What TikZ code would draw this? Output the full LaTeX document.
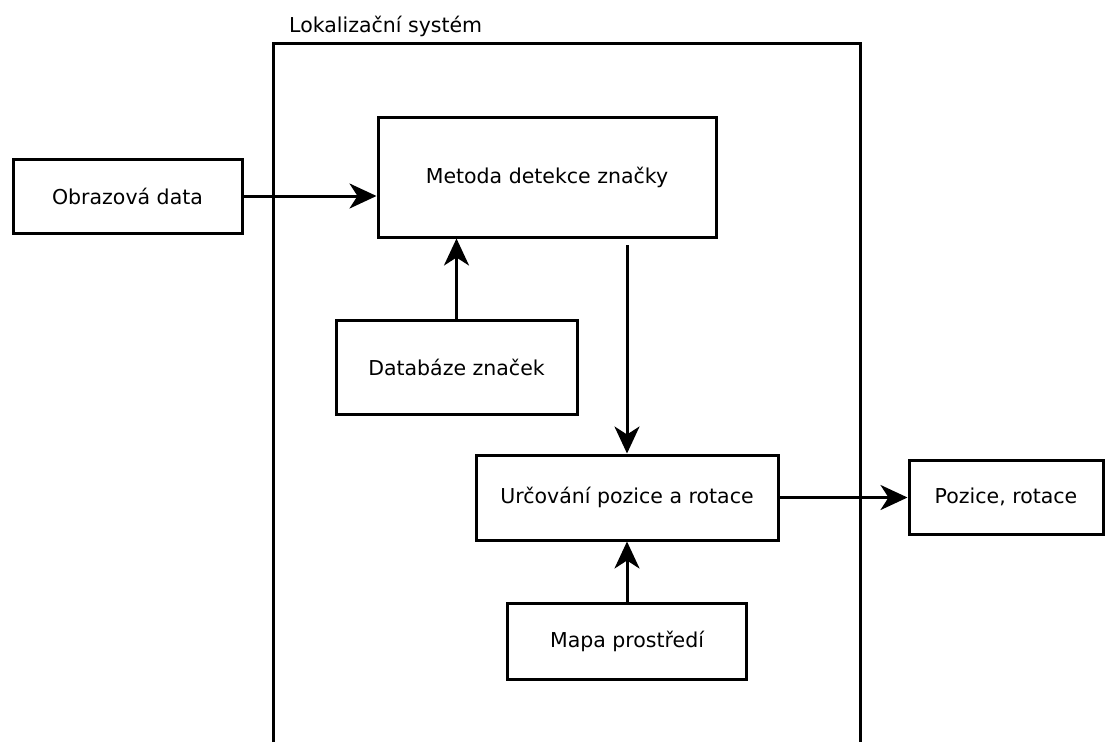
\documentclass[tikz,border=0pt]{standalone}
\usepackage{fontspec}
\setmainfont{DejaVu Sans}
\usetikzlibrary{arrows.meta}
\begin{document}
\begin{tikzpicture}[x=1pt,y=-1pt,
  box/.style={draw, line width=3pt, inner sep=0pt, align=center, font=\fontsize{20.5}{24}\selectfont},
  conn/.style={line width=3pt, -{Stealth[length=27pt,width=25pt,inset=8pt]}},
  frame/.style={line width=3pt}]
\useasboundingbox (0,0) rectangle (1107,742);
% outer frame
\coordinate (fbl) at (273,742);
\coordinate (ftl) at (273,43);
\coordinate (ftr) at (860,43);
\coordinate (fbr) at (860,742);
\draw[frame] (fbl) -- (ftl) -- (ftr) -- (fbr);
\node[anchor=base west, inner sep=0pt, font=\fontsize{20.5}{24}\selectfont] (title) at (289,32) {Lokalizační systém};
% boxes
\node[box, minimum width=229pt, minimum height=74pt] (obr) at (127.5,196) {Obrazová data};
\node[box, minimum width=338pt, minimum height=120pt] (met) at (547,177) {Metoda detekce značky};
\node[box, minimum width=241pt, minimum height=94pt] (dat) at (456.5,367) {Databáze značek};
\node[box, minimum width=302pt, minimum height=85pt] (urc) at (627,497.5) {Určování pozice a rotace};
\node[box, minimum width=194pt, minimum height=74pt] (poz) at (1006,497) {Pozice, rotace};
\node[box, minimum width=239pt, minimum height=76pt] (map) at (627,641) {Mapa prostředí};
% connectors
\draw[conn] (obr.east) -- (obr.east -| met.west);
\draw[conn] (dat.north) -- (dat.north |- met.south);
\coordinate (ms) at (627,245);
\draw[conn] (ms) -- (ms |- urc.north);
\draw[conn] (urc.east) -- (urc.east -| poz.west);
\draw[conn] (map.north) -- (map.north |- urc.south);
\end{tikzpicture}
\end{document}
